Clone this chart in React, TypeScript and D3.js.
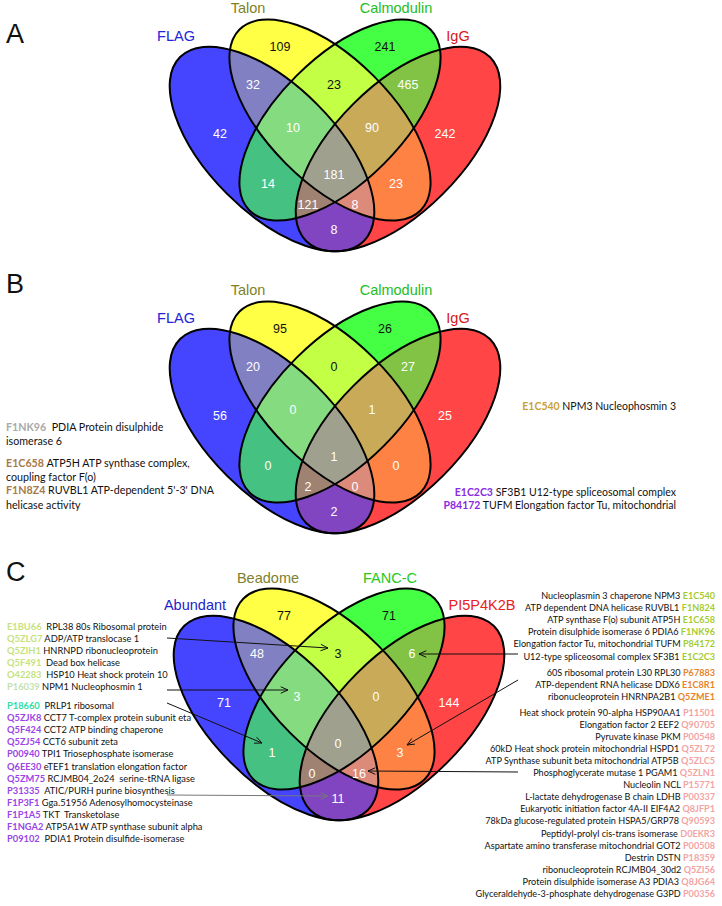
import React from 'react';
import * as d3 from 'd3';

const W = 722;
const H = 906;

// ---------------- data ----------------
const setKeys = ['F', 'T', 'C', 'I'];
const regionKeys = ['F', 'T', 'C', 'I', 'FT', 'FC', 'FI', 'TC', 'TI', 'CI', 'FTC', 'FTI', 'FCI', 'TCI', 'FTCI'];
const countsA = [42, 109, 241, 242, 32, 14, 8, 23, 23, 465, 10, 8, 121, 90, 181];
const countsB = [56, 95, 26, 25, 20, 0, 2, 0, 0, 27, 0, 0, 2, 1, 1];
const countsC = [71, 77, 71, 144, 48, 1, 11, 3, 3, 6, 3, 16, 0, 0, 0];
const setNamesAB = ['FLAG', 'Talon', 'Calmodulin', 'IgG'];
const setNamesC = ['Abundant', 'Beadome', 'FANC-C', 'PI5P4K2B'];
const regionColors = ['#4545FF', '#FFFF45', '#45FF45', '#FF4545', '#8080C2', '#45C282', '#8245C2', '#C2FF45', '#FF8245', '#82C245', '#85DB80', '#DC8A7A', '#A08272', '#C8AA58', '#A0A08E'];

const annotBLeft = [
  { id: 'F1NK96', color: '#A9A9A9', text: '  PDIA Protein disulphide' },
  { id: '', color: '', text: 'isomerase 6' },
  { id: 'E1C658', color: '#A87A4A', text: ' ATP5H ATP synthase complex,' },
  { id: '', color: '', text: 'coupling factor F(o)' },
  { id: 'F1N8Z4', color: '#A87A4A', text: " RUVBL1 ATP-dependent 5'-3' DNA" },
  { id: '', color: '', text: 'helicase activity' },
];
const annotBRight = [
  { id: 'E1C540', color: '#C9A236', text: ' NPM3 Nucleophosmin 3' },
  { id: 'E1C2C3', color: '#8A2BE2', text: ' SF3B1 U12-type spliceosomal complex' },
  { id: 'P84172', color: '#8A2BE2', text: ' TUFM Elongation factor Tu, mitochondrial' },
];

const listCLeftIds = ['E1BU66', 'Q5ZLG7', 'Q5ZIH1', 'Q5F491', 'O42283', 'P16039', 'P18660', 'Q5ZJK8', 'Q5F424', 'Q5ZJ54', 'P00940', 'Q6EE30', 'Q5ZM75', 'P31335', 'F1P3F1', 'F1P1A5', 'F1NGA2', 'P09102'];
const listCLeftText = ['  RPL38 80s Ribosomal protein', ' ADP/ATP translocase 1', ' HNRNPD ribonucleoprotein', '  Dead box helicase', '  HSP10 Heat shock protein 10', ' NPM1 Nucleophosmin 1', '  PRLP1 ribosomal', ' CCT7 T-complex protein subunit eta', ' CCT2 ATP binding chaperone', ' CCT6 subunit zeta', ' TPI1 Triosephosphate isomerase', ' eTEF1 translation elongation factor', ' RCJMB04_2o24  serine-tRNA ligase', '  ATIC/PURH purine biosynthesis', ' Gga.51956 Adenosylhomocysteinase', ' TKT  Transketolase', ' ATP5A1W ATP synthase subunit alpha', '  PDIA1 Protein disulfide-isomerase'];
const listCLeftGroup = [0, 0, 0, 0, 0, 1, 2, 3, 3, 3, 3, 3, 3, 3, 3, 3, 3, 3];

const listCRightText = ['Nucleoplasmin 3 chaperone NPM3', 'ATP dependent DNA helicase RUVBL1', 'ATP synthase F(o) subunit ATP5H', 'Protein disulphide isomerase 6 PDIA6', 'Elongation factor Tu, mitochondrial TUFM', 'U12-type spliceosomal complex SF3B1', '60S ribosomal protein L30 RPL30', 'ATP-dependent RNA helicase DDX6', 'ribonucleoprotein HNRNPA2B1', 'Heat shock protein 90-alpha HSP90AA1', 'Elongation factor 2 EEF2', 'Pyruvate kinase PKM', '60kD Heat shock protein mitochondrial HSPD1', 'ATP Synthase subunit beta mitochondrial ATP5B', 'Phosphoglycerate mutase 1 PGAM1', 'Nucleolin NCL', 'L-lactate dehydrogenase B chain LDHB', 'Eukaryotic initiation factor 4A-II EIF4A2', '78kDa glucose-regulated protein HSPA5/GRP78', 'Peptidyl-prolyl cis-trans isomerase', 'Aspartate amino transferase mitochondrial GOT2', 'Destrin DSTN', 'ribonucleoprotein RCJMB04_30d2', 'Protein disulphide isomerase A3 PDIA3', 'Glyceraldehyde-3-phosphate dehydrogenase G3PD'];
const listCRightIds = ['E1C540', 'F1N824', 'E1C658', 'F1NK96', 'P84172', 'E1C2C3', 'P67883', 'E1C8R1', 'Q5ZME1', 'P11501', 'Q90705', 'P00548', 'Q5ZL72', 'Q5ZLC5', 'Q5ZLN1', 'P15771', 'P00337', 'Q8JFP1', 'Q90593', 'D0EKR3', 'P00508', 'P18359', 'Q5ZI56', 'Q8JG64', 'P00356'];
const listCRightGroup = [0, 0, 0, 0, 0, 0, 1, 1, 1, 2, 2, 2, 2, 2, 2, 2, 2, 2, 2, 2, 2, 2, 2, 2, 2];

// ---------------- layout ----------------
const ellipseGeo: Record<string, { dx: number; dy: number; rx: number; ry: number; rot: number }> = {
  F: { dx: -63, dy: 24, rx: 130, ry: 63.5, rot: 45 },
  T: { dx: -5, dy: -5, rx: 128, ry: 62, rot: 45 },
  C: { dx: 5, dy: -5, rx: 128, ry: 62, rot: -45 },
  I: { dx: 63, dy: 24, rx: 130, ry: 63.5, rot: -45 },
};
const labelOffsets: Record<string, [number, number]> = {
  F: [-115, 8], T: [-55, -79], C: [50, -79], I: [110, 8],
  FT: [-82, -41], FC: [-67, 58], FI: [-1, 104], TC: [-1, -41], TI: [61, 58], CI: [73, -41],
  FTC: [-42, 2], FTI: [20, 79], FCI: [-27, 79], TCI: [37, 2], FTCI: [-1, 49],
};
const darkNumberRegions = ['T', 'C', 'TC'];

const colorScale = d3.scaleOrdinal<string, string>().domain(regionKeys).range(regionColors);

const SANS = 'Liberation Sans, Arial, Helvetica, sans-serif';
const LIST = 'Lato, Calibri, sans-serif';

type VennProps = {
  id: string;
  X: number;
  Yc: number;
  counts: number[];
  names: string[];
  nameColors: string[];
  namePos: [number, number][];
};

function Venn({ id, X, Yc, counts, names, nameColors, namePos }: VennProps) {
  const geo = setKeys.map((k) => {
    const g = ellipseGeo[k];
    return { k, cx: X + g.dx, cy: Yc + g.dy, rx: g.rx, ry: g.ry, rot: g.rot };
  });
  const geoBy: Record<string, (typeof geo)[number]> = {};
  geo.forEach((g) => (geoBy[g.k] = g));
  const ell = (k: string, props: any = {}) => {
    const g = geoBy[k];
    return (
      <ellipse
        cx={g.cx}
        cy={g.cy}
        rx={g.rx}
        ry={g.ry}
        transform={`rotate(${g.rot} ${g.cx} ${g.cy})`}
        {...props}
      />
    );
  };
  return (
    <g>
      <defs>
        {setKeys.map((k) => (
          <clipPath id={`${id}-${k}`} key={k}>
            {ell(k)}
          </clipPath>
        ))}
      </defs>
      {regionKeys.map((rk) => {
        const sets = rk.split('');
        let el: any = ell(sets[sets.length - 1], { fill: colorScale(rk) });
        for (let i = sets.length - 2; i >= 0; i--) {
          el = <g clipPath={`url(#${id}-${sets[i]})`}>{el}</g>;
        }
        return <g key={rk}>{el}</g>;
      })}
      {setKeys.map((k) => (
        <g key={'o' + k}>{ell(k, { fill: 'none', stroke: '#000', strokeWidth: 2 })}</g>
      ))}
      {regionKeys.map((rk, i) => (
        <text
          key={'n' + rk}
          x={X + labelOffsets[rk][0]}
          y={Yc + labelOffsets[rk][1]}
          dy="0.36em"
          textAnchor="middle"
          fontFamily={SANS}
          fontSize={12.5}
          fill={darkNumberRegions.includes(rk) ? '#111' : '#fff'}
        >
          {counts[i]}
        </text>
      ))}
      {names.map((n, i) => (
        <text key={'s' + n} x={namePos[i][0]} y={namePos[i][1]} textAnchor="middle" fontFamily={SANS} fontSize={14.5} fill={nameColors[i]}>
          {n}
        </text>
      ))}
    </g>
  );
}

function Arrow({ x0, y0, x1, y1, color }: { x0: number; y0: number; x1: number; y1: number; color: string }) {
  const ang = Math.atan2(y1 - y0, x1 - x0);
  const L = 8;
  const spread = 0.42;
  const line = d3.line();
  const shaft = line([[x0, y0], [x1, y1]]) as string;
  const head = line([
    [x1 - L * Math.cos(ang - spread), y1 - L * Math.sin(ang - spread)],
    [x1, y1],
    [x1 - L * Math.cos(ang + spread), y1 - L * Math.sin(ang + spread)],
  ]) as string;
  return (
    <g fill="none" stroke={color} strokeWidth={1}>
      <path d={shaft} />
      <path d={head} />
    </g>
  );
}

const leftGroupColors = ['#C6E27E', '#C4E1B0', '#2FDDA4', '#9A45E6'];
const rightGroupColors = ['#A6CC2E', '#E8842C', '#F4A3A3'];

export default function App() {
  const colorsAB = ['#2323D8', '#7F7F24', '#23BD23', '#D81616'];
  const colorsC = ['#2323C8', '#808030', '#23C823', '#E82020'];
  const leftY0 = [626, 638.1, 650.3, 662.4, 674.6, 686.7];
  const leftY = listCLeftIds.map((_, i) => (i < 6 ? leftY0[i] : 705.3 + (i - 6) * 12.15));
  const rightY = listCRightIds.map((_, i) =>
    i < 6 ? 595.5 + i * 12.1 : i < 9 ? 672.2 + (i - 6) * 11.9 : 712 + (i - 9) * 12.1
  );
  return (
    <svg width={W} height={H} style={{ position: 'absolute', left: 0, top: 0, background: '#fff' }}>
      <rect x={0} y={0} width={W} height={H} fill="#fff" />
      {/* panel letters */}
      <text x={6} y={43} fontFamily={SANS} fontSize={27} fill="#111">A</text>
      <text x={6} y={293} fontFamily={SANS} fontSize={27} fill="#111">B</text>
      <text x={6} y={581} fontFamily={SANS} fontSize={27} fill="#111">C</text>

      <Venn id="va" X={335} Yc={125} counts={countsA} names={setNamesAB} nameColors={colorsAB}
        namePos={[[176, 41], [248, 13], [396, 13], [458, 41]]} />
      <Venn id="vb" X={335} Yc={407} counts={countsB} names={setNamesAB} nameColors={colorsAB}
        namePos={[[176, 323], [248, 295], [396, 295], [458, 323]]} />
      <Venn id="vc" X={339} Yc={694} counts={countsC} names={setNamesC} nameColors={colorsC}
        namePos={[[195, 610], [268, 583], [390, 583], [482, 610]]} />

      {/* panel B annotations */}
      {annotBLeft.map((a, i) => (
        <text key={'bl' + i} x={6} y={[431, 445, 467, 481, 494, 509][i]} fontFamily={LIST} fontSize={10.7} fill="#111" style={{ whiteSpace: 'pre' }}>
          {a.id ? <tspan fill={a.color} fontWeight="bold">{a.id}</tspan> : null}
          <tspan>{a.text}</tspan>
        </text>
      ))}
      {annotBRight.map((a, i) => (
        <text key={'br' + i} x={676} y={[410, 496, 509][i]} textAnchor="end" fontFamily={LIST} fontSize={10.5} fill="#111" style={{ whiteSpace: 'pre' }}>
          <tspan fill={a.color} fontWeight="bold">{a.id}</tspan>
          <tspan>{a.text}</tspan>
        </text>
      ))}

      {/* panel C lists */}
      {listCLeftIds.map((idv, i) => (
        <text key={'cl' + i} x={7} y={leftY[i] + 3.5} fontFamily={LIST} fontSize={9.3} fill="#111" style={{ whiteSpace: 'pre' }}>
          <tspan fill={leftGroupColors[listCLeftGroup[i]]} fontWeight="bold">{idv}</tspan>
          <tspan>{listCLeftText[i]}</tspan>
        </text>
      ))}
      {listCRightIds.map((idv, i) => (
        <text key={'cr' + i} x={715} y={rightY[i] + 3.5} textAnchor="end" fontFamily={LIST} fontSize={9.1} fill="#111" style={{ whiteSpace: 'pre' }}>
          <tspan>{listCRightText[i] + ' '}</tspan>
          <tspan fill={rightGroupColors[listCRightGroup[i]]} fontWeight="bold">{idv}</tspan>
        </text>
      ))}

      {/* arrows */}
      <Arrow x0={167} y0={638} x1={328} y1={648} color="#111" />
      <Arrow x0={167} y0={690} x1={288} y1={690} color="#111" />
      <Arrow x0={167} y0={703} x1={262} y1={743} color="#111" />
      <Arrow x0={167} y0={795} x1={328} y1={796} color="#777" />
      <Arrow x0={518} y0={654} x1={419} y1={654} color="#111" />
      <Arrow x0={518} y0={680} x1={407} y1={745} color="#111" />
      <Arrow x0={518} y0={772} x1={368} y1={771} color="#111" />
    </svg>
  );
}
